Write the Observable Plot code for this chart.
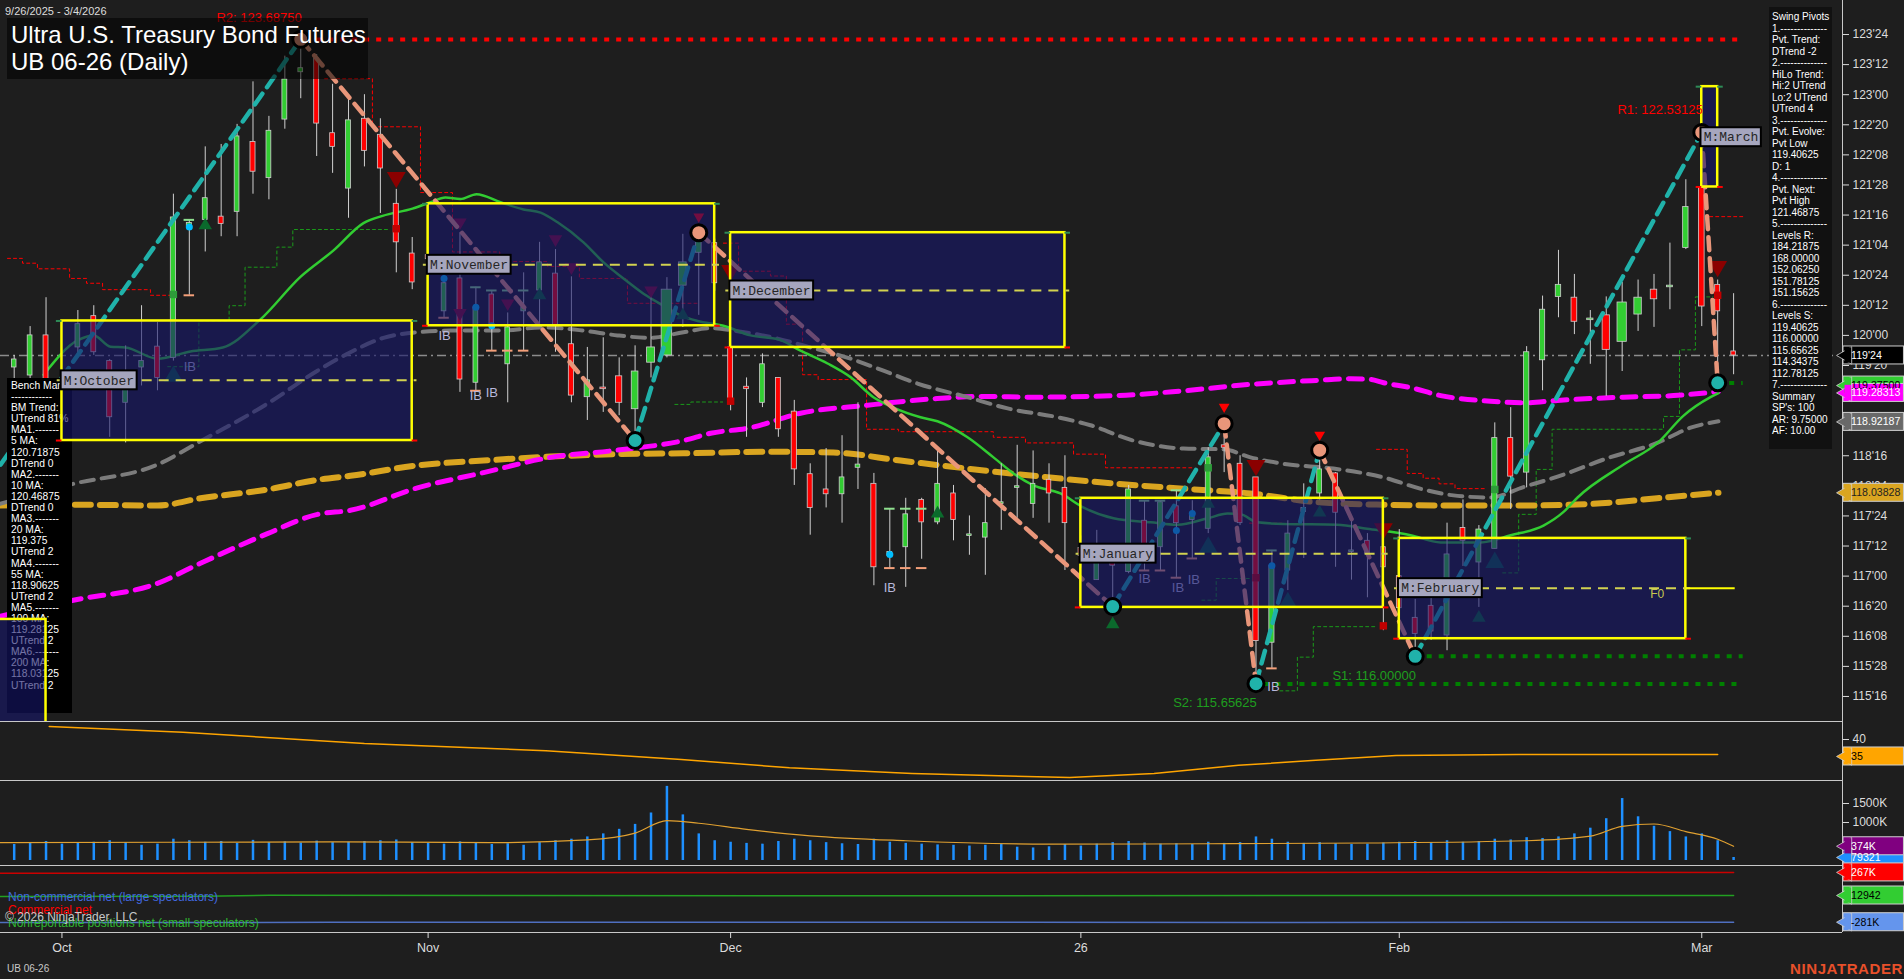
<!DOCTYPE html>
<html><head><meta charset="utf-8"><title>UB 06-26 Daily</title>
<script src="https://cdn.jsdelivr.net/npm/d3@7"></script>
<script src="https://cdn.jsdelivr.net/npm/@observablehq/plot@0.6"></script>
<style>
html,body{margin:0;padding:0;background:#1e1e1e;}
#wrap{position:relative;width:1904px;height:979px;overflow:hidden;background:#1e1e1e;font-family:"Liberation Sans",Arial,sans-serif;}
.abs{position:absolute;white-space:pre;}
</style></head><body><div id="wrap"></div>
<script>
// ---------------- DATA ----------------
const opens  = [119.6,119.5,120.0,119.3,119.85,120.24,119.68,119.16,119.60,119.86,119.72,121.36,121.44,121.48,121.54,122.41,121.96,122.69,123.28,123.45,122.52,121.83,122.70,122.50,121.64,121.02,121.00,120.30,120.71,119.41,120.51,119.64,120.30,120.56,120.77,119.89,119.23,119.35,119.49,119.08,119.66,119.75,120.62,121.03,121.15,119.85,119.36,119.16,119.47,119.05,118.27,118.08,118.02,118.35,118.15,117.25,117.36,117.95,117.67,118.03,117.50,117.48,117.90,118.10,117.90,118.20,118.10,117.35,116.95,117.28,117.05,117.69,117.36,117.87,117.70,117.59,118.63,118.40,118.23,116.17,117.07,117.80,118.03,118.28,117.30,117.44,117.36,117.00,116.48,116.63,116.26,117.60,117.17,117.34,118.72,118.29,119.69,120.48,120.47,120.19,120.25,119.92,120.26,120.57,120.60,121.09,121.84,120.63,119.80];
const highs  = [119.75,120.11,120.47,119.45,120.31,120.37,119.70,119.87,120.37,120.16,121.76,121.44,122.35,122.38,122.63,123.16,122.73,123.48,123.69,123.50,123.13,122.99,123.00,122.70,121.82,121.22,121.10,120.75,121.28,120.60,120.56,120.28,120.78,121.16,121.07,120.73,119.85,119.97,119.72,119.87,120.58,120.72,121.26,121.30,121.20,119.90,119.47,119.77,119.47,119.19,118.40,118.59,118.75,119.16,118.28,117.84,117.97,117.97,118.56,118.13,117.75,118.09,118.40,118.63,118.56,118.40,118.50,117.50,117.57,117.34,118.13,117.94,117.94,118.07,117.94,118.60,118.90,118.50,118.23,117.32,117.69,118.15,118.57,118.29,117.69,117.53,117.36,117.58,116.71,116.81,117.66,117.95,117.63,118.91,119.10,119.86,120.49,121.06,120.76,120.31,120.48,120.66,120.69,120.76,121.15,121.94,122.53,120.69,120.52];
const lows   = [119.2,119.3,119.2,118.9,119.72,119.75,118.73,118.66,119.37,119.31,119.68,120.50,121.04,121.23,121.23,121.76,121.69,122.57,122.95,122.23,122.02,121.46,122.10,121.52,120.78,120.57,120.85,120.22,119.29,119.31,119.81,119.16,119.81,120.12,119.79,119.16,118.94,119.04,119.00,118.69,119.47,119.72,120.10,120.25,120.55,119.06,118.73,119.10,118.73,118.13,117.51,117.85,117.66,118.08,116.88,117.10,116.86,117.21,117.64,117.44,117.26,117.01,117.57,117.72,117.72,117.66,117.07,117.10,116.95,116.62,117.03,117.07,117.07,116.98,117.22,117.53,118.29,117.63,115.66,115.85,116.82,117.22,117.94,117.11,116.95,116.73,116.32,116.30,116.00,116.20,116.07,117.12,116.61,117.34,117.83,118.10,119.31,120.22,120.01,119.64,119.24,119.55,120.05,120.10,120.32,121.07,120.11,119.41,119.51];
const closes = [119.7,120.0,119.4,119.1,120.14,119.79,118.98,119.41,119.68,119.47,121.47,121.40,121.71,121.39,122.48,122.04,122.55,123.19,123.33,122.64,122.35,122.68,122.30,122.08,121.16,120.66,120.95,120.65,119.45,120.35,120.12,120.10,120.35,120.91,120.12,119.25,119.44,119.33,119.16,119.55,119.85,120.57,120.91,121.25,120.65,119.19,119.33,119.64,118.83,118.33,117.85,118.02,118.23,118.39,117.11,117.30,117.77,117.67,118.15,117.70,117.52,117.66,117.92,118.12,118.15,118.03,117.66,117.25,117.23,117.13,118.08,117.26,117.92,117.66,117.75,118.48,118.60,117.66,116.19,117.13,117.53,117.85,118.33,117.79,117.32,117.28,117.11,116.60,116.28,116.31,117.27,117.44,117.58,118.72,118.24,119.79,120.32,120.63,120.17,120.21,119.82,120.41,120.47,120.45,120.62,121.60,120.36,120.30,119.75];
const volumes = [420,460,500,430,450,480,520,470,400,430,560,520,480,500,450,530,470,490,460,510,470,480,500,520,540,470,450,430,490,460,420,440,400,470,520,560,620,700,820,950,1250,1950,1200,700,520,480,450,430,500,560,520,470,440,420,560,480,450,430,410,400,380,400,420,350,330,360,420,380,430,470,500,460,430,440,420,480,450,470,620,560,480,450,470,440,420,430,460,480,500,470,520,480,500,560,540,600,580,620,700,850,1100,1630,1150,900,760,620,700,520,79.3];
const volAvg = [[-0.9,470],[10,480],[20,490],[30,470],[36,540],[39,720],[41,1050],[43,980],[46,820],[50,650],[56,520],[65,430],[75,440],[85,460],[95,520],[99,640],[101,900],[103,960],[105,760],[107,560],[108,374]];
const adx = [[2.2,43.8],[10.6,42.1],[22,38.8],[33.4,36.7],[41.9,34.1],[48.7,31.7],[56.4,30.0],[66.3,28.8],[71.6,30.0],[76.9,32.4],[81.5,33.8],[86.8,35.3],[94.5,35.6],[107,35.6]];
const cotCommercial = [[-0.9,258],[10,258],[18,262],[30,265],[50,262],[70,266],[90,268],[108,267]];
const cotLarge = [[-0.9,2],[12,5],[16,15],[30,13],[60,10],[90,14],[108,12.9]];
const cotSmall = [[-0.9,-285],[20,-282],[50,-280],[80,-283],[108,-281]];

const ma20 = [[1.85,119.51],[4,119.94],[5,120.0],[6.05,119.86],[7,119.85],[9,119.71],[11.07,119.8],[13.1,119.85],[15.47,120.2],[17.98,120.73],[20.06,121.06],[21.94,121.4],[23.14,121.49],[25.02,121.58],[26.15,121.66],[27.09,121.72],[28.03,121.7],[29.04,121.76],[30.55,121.66],[31.99,121.57],[33.06,121.53],[34.13,121.41],[35.76,121.16],[37.02,120.91],[38.27,120.71],[39.53,120.52],[40.79,120.37],[41.85,120.25],[42.92,120.18],[44.55,120.12],[46.25,120.0],[48.01,119.95],[49.39,119.81],[51.09,119.65],[52.53,119.48],[53.97,119.23],[55.23,119.1],[56.93,118.98],[57.99,118.93],[59.88,118.73],[61.51,118.48],[62.77,118.28],[64.03,118.13],[65.72,118.03],[67.21,117.85],[69.05,117.72],[71.39,117.67],[73.08,117.64],[74.96,117.72],[76.22,117.78],[77.03,117.77],[78.09,117.67],[79.73,117.65],[83.1,117.64],[84.98,117.59],[87.71,117.51],[89.6,117.42],[92.11,117.42],[94,117.51],[96.06,117.63],[97.32,117.8],[98.2,117.98],[101.09,118.39],[103.23,118.66],[104.86,119.0],[106.55,119.23],[107.05,119.28]];
const ma55 = [[-0.9,117.9],[3.72,118.15],[9,118.39],[11.7,118.68],[15.91,119.15],[19.05,119.56],[21.12,119.79],[23.2,119.97],[25.33,120.04],[27.4,120.06],[30.55,120.06],[33.25,120.1],[35.76,120.06],[37.9,120.0],[39.97,119.97],[42.04,120.04],[43.74,120.09],[45.18,120.06],[47.95,119.96],[50.02,119.85],[52.53,119.71],[54.6,119.56],[56.74,119.4],[59.88,119.23],[62.4,119.09],[65.53,118.98],[67.6,118.88],[70.28,118.69],[73.45,118.59],[75.96,118.58],[77.65,118.48],[79.73,118.4],[82.87,118.34],[86.01,118.23],[88.5,118.08],[90.66,118.0],[92.73,117.98],[94.8,118.11],[96.94,118.24],[100.08,118.47],[103.2,118.66],[105.3,118.85],[107.05,118.93]];
const ma100 = [[-0.9,116.5],[3.72,116.7],[9,116.91],[11.7,117.16],[15.91,117.53],[19.05,117.77],[21.12,117.82],[25.33,118.1],[29.48,118.29],[33.69,118.48],[37.9,118.57],[42.04,118.69],[43.74,118.78],[46.25,118.85],[49.39,119.03],[53.6,119.13],[57.75,119.21],[60.89,119.24],[64.03,119.23],[69.3,119.25],[73.45,119.31],[77.65,119.39],[81.86,119.44],[83.94,119.46],[85.2,119.45],[86.01,119.41],[87.71,119.35],[89.6,119.25],[92.73,119.18],[94.8,119.16],[96.94,119.19],[101.09,119.23],[104.23,119.25],[107.05,119.3]];
const ma200 = [[-0.9,117.88],[3.72,117.89],[9,117.88],[11.7,117.97],[15.91,118.08],[19.05,118.2],[21.12,118.25],[25.33,118.38],[29.48,118.44],[33.69,118.49],[37.9,118.52],[42.04,118.53],[47.32,118.55],[51.46,118.54],[55.67,118.44],[59.88,118.34],[64.03,118.25],[69.3,118.15],[73.45,118.09],[77.65,118.03],[81.86,117.92],[86.01,117.89],[90.66,117.88],[94.8,117.88],[99.02,117.9],[103.2,117.97],[107.05,118.04]];

const swingIdx   = [-0.86, 18, 39, 43, 69, 76, 78, 82, 88, 106, 107];
const swingPrice = [118.39, 123.69, 118.69, 121.28, 116.62, 118.9, 115.66, 118.57, 116.0, 122.53, 119.41];

const redStair = [
  [[-0.42,120.96],[0.52,120.9],[1.46,120.83],[3.48,120.71],[4.54,120.65],[5.55,120.57],[8.56,120.5],[10.0,120.5]],
  [[19.5,123.2],[22.5,122.6],[25.52,121.78],[27.53,121.04],[30.5,120.92],[33.5,120.86],[35.5,120.71],[38.52,120.4],[42.9,120.4]],
  [[44.55,121.15],[45.5,120.8],[47.5,120.74],[48.5,120.14],[49.52,119.51],[50.5,119.45],[53.54,118.83],[55.55,118.8],[61.5,118.73],[63.52,118.66],[66.54,118.52],[68.55,118.35],[74.1,118.35]],
  [[77.6,117.66],[79.6,117.66]],
  [[85.57,118.58],[87.5,118.28],[88.5,118.22],[89.5,118.15],[90.5,118.09],[92.5,118.09]],
  [[106.5,121.48],[108.6,121.48]]
];
const greenStair = [
  [[9.64,119.61],[11.6,120.18],[13.5,120.37],[14.5,120.85],[16.5,121.1],[17.5,121.32],[23.5,121.32]],
  [[41.5,119.14],[42.5,119.17],[44.5,119.17]],
  [[74.6,116.7],[75.5,116.97],[77.6,116.97]],
  [[79.5,115.57],[80.6,115.99],[81.6,116.37],[85.5,116.37]],
  [[93.5,117.04],[94.5,117.77],[95.6,118.33],[96.6,118.83],[103.6,118.99],[104.6,119.82],[105.6,120.48],[106.7,120.48]]
];

const resLevels = [123.6875], resStart = [19];
const supLevels = [116.0, 115.65625, 119.40625], supStart = [88, 78.5, 107];
const levelEnd = 108.6;
const lastPrice = 119.75;

const boxNames  = ["", "M:October", "M:November", "M:December", "M:January", "M:February", "M:March"];
const boxStart  = [-1.5, 3, 26, 45, 67, 87, 106];
const boxEnd    = [2, 25, 44, 66, 86, 105, 107];
const boxTop    = [116.46, 120.18, 121.64, 121.28, 117.97, 117.47, 123.10];
const boxBottom = [114.6, 118.69, 120.12, 119.85, 116.61, 116.22, 121.85];
const boxMid    = [null, 119.44, 120.88, 120.56, 117.28, 116.85, 122.47];

const downTriBig = [[24,121.97],[45,120.81],[78,118.38],[86,117.59],[107,120.86]];
const downTriSmall = [[28,121.41],[28,120.28],[31,120.4],[34,121.2],[35,120.85],[40,120.56]];
const downTriRed = [[43,121.48],[76,119.11],[82,118.76]];
const upTriBig = [[10,119.49],[75,117.36],[80,116.67],[93,117.17]];
const upTriSmall = [[12,121.37],[33,120.5],[42,120.25],[58,117.78],[75,117.9],[82,117.79],[92,116.48],[69,116.4]];
const redSquares = [[24,121.33],[45,119.18],[78,116.98],[86,116.38],[107,120.5]];
const greenSquares = [[10,120.51],[75,118.35],[93,118.08]];
const cyanDots = [[11,121.35],[27,120.71],[29,120.35],[30,120.12],[55,117.27],[73,117.57],[74,117.78],[79,117.13]];
const topCaps = [[11,121.44],[29,120.6],[30,120.56],[31,120.56],[32,120.56],[55,117.84],[56,117.84],[57,117.84],[71,117.94],[72,117.94],[73,118.07],[79,117.32]];
const botCaps = [[11,120.5],[27,120.22],[29,119.31],[30,119.81],[31,119.81],[32,119.81],[55,117.1],[56,117.1],[57,117.1],[71,117.07],[72,117.07],[73,116.98],[74,117.22],[79,115.85]];
const ibLabels = [[11.03,119.61],[27.03,120.0],[29.0,119.25],[30.0,119.29],[55.0,116.85],[71.0,116.97],[73.1,116.85],[74.1,116.95],[79.1,115.62]];

const priceTicks = [115.5,115.875,116.25,116.625,117,117.375,117.75,118.125,118.5,118.875,119.25,119.625,120,120.375,120.75,121.125,121.5,121.875,122.25,122.625,123,123.375,123.75];
const monthIdx = [3, 26, 45, 67, 87, 106];
const monthLabels = ["Oct", "Nov", "Dec", "26", "Feb", "Mar"];

const priceTags = [
  {v:119.75, label:"119'24", fill:"#000000", tc:"#ffffff"},
  {v:119.375, label:"119.37500", fill:"#32cd32", tc:"#000000"},
  {v:119.28313, label:"119.28313", fill:"#ff00ff", tc:"#ffffff"},
  {v:118.92187, label:"118.92187", fill:"#696969", tc:"#ffffff"},
  {v:118.03828, label:"118.03828", fill:"#daa520", tc:"#222222"}
];
const oscTags = [{v:35, label:"35", fill:"#ffa500", tc:"#000000"}];
const volTags = [{v:79.3, label:"79321", fill:"#1e90ff", tc:"#ffffff"},{v:374, label:"374K", fill:"#800080", tc:"#ffffff"}];
const cotTags = [{v:267, label:"267K", fill:"#ff0000", tc:"#ffffff"},{v:12.9, label:"12942", fill:"#32cd32", tc:"#000000"},{v:-281, label:"-281K", fill:"#6495ed", tc:"#000000"}];

const swingPanelText = ["Swing Pivots","1.--------------","Pvt. Trend:","DTrend -2","2.--------------","HiLo Trend:","Hi:2 UTrend","Lo:2 UTrend","UTrend 4","3.--------------","Pvt. Evolve:","Pvt Low","119.40625","D: 1","4.--------------","Pvt. Next:","Pvt High","121.46875","5.--------------","Levels R:","184.21875","168.00000","152.06250","151.78125","151.15625","6.--------------","Levels S:","119.40625","116.00000","115.65625","114.34375","112.78125","7.--------------","Summary","SP's: 100","AR: 9.75000","AF: 10.00"];
const benchPanelText = ["Bench Marks","------------","BM Trend:","UTrend 81%","MA1.-------","5 MA:","120.71875","DTrend 0","MA2.-------","10 MA:","120.46875","DTrend 0","MA3.-------","20 MA:","119.375","UTrend 2","MA4.-------","55 MA:","118.90625","UTrend 2","MA5.-------","100 MA:","119.28125","UTrend 2","MA6.-------","200 MA:","118.03125","UTrend 2"];

// ---------------- BUILD ----------------
const FONT = '"Liberation Sans", Arial, sans-serif';
const MONO = '"Liberation Mono", "DejaVu Sans Mono", monospace';
const wrapEl = document.getElementById("wrap");
const XD = [-0.86, 114.84];
const common = {
  width: 1904, marginLeft: 0, marginRight: 62, marginTop: 0, marginBottom: 0,
  x: {domain: XD, axis: null, label: null}, color: {type: "identity"},
  style: {background: "transparent", color: "#dcdcdc", fontFamily: FONT, fontSize: "12px", overflow: "visible"}
};
function placeNode(node, y0, z) {
  node.style.position = "absolute"; node.style.left = "0px"; node.style.top = y0 + "px";
  node.style.zIndex = z; node.style.pointerEvents = "none"; wrapEl.appendChild(node);
}
function addDiv(text, css, z) {
  const d = document.createElement("div"); d.className = "abs"; d.style.cssText = css; d.style.zIndex = z;
  d.textContent = text; wrapEl.appendChild(d); return d;
}
const P = a => ({x: a[0], y: a[1]});
function tagMarks(tags, half) {
  return [
    Plot.rect(tags, {x1: 114.9, x2: 118.7, y1: d => d.v - half, y2: d => d.v + half, fill: d => d.fill, stroke: "#d0d0d0", strokeWidth: 1}),
    Plot.dot(tags, {x: 115.1, y: "v", symbol: "triangle", rotate: -90, r: 6.5, fill: d => d.fill, stroke: "#d0d0d0", strokeWidth: 0.8}),
    Plot.rect(tags, {x1: 115.0, x2: 115.4, y1: d => d.v - half * 0.85, y2: d => d.v + half * 0.85, fill: d => d.fill}),
    Plot.text(tags, {x: 115.38, y: "v", text: "label", fill: d => d.tc, textAnchor: "start", fontSize: 10.6})
  ];
}
const fmt32 = p => { const w = Math.floor(p + 1e-9); const t = Math.round((p - w) * 32); return w + "'" + String(t).padStart(2, "0"); };

const bars = opens.map((o, i) => ({i, o, h: highs[i], l: lows[i], c: closes[i], v: volumes[i]}));
const halfW = d => Math.max(4.5, 3 + d.v / 260) / 2 / 15.92;
const swingSegs = [];
for (let k = 0; k < swingIdx.length - 1; k++) {
  const up = swingPrice[k + 1] > swingPrice[k];
  swingSegs.push({x: swingIdx[k], y: swingPrice[k], z: k, up}, {x: swingIdx[k + 1], y: swingPrice[k + 1], z: k, up});
}
const pivots = swingIdx.slice(1).map((x, k) => ({x, y: swingPrice[k + 1], hi: swingPrice[k + 1] > swingPrice[k]}));
const redStairPts = redStair.flatMap((seg, k) => seg.map(p => ({x: p[0], y: p[1], z: k})));
const greenStairPts = greenStair.flatMap((seg, k) => seg.map(p => ({x: p[0], y: p[1], z: k})));
const boxes = boxNames.map((n, k) => ({n, s: boxStart[k], e: boxEnd[k], top: boxTop[k], bot: boxBottom[k], mid: boxMid[k]}));
const labeled = boxes.filter(b => b.n);
const levelsR = resLevels.map((p, k) => ({p, s: resStart[k]}));
const levelsS = supLevels.map((p, k) => ({p, s: supStart[k]}));
const PY = [115.188, 124.174];

// base price layer
const baseLayer = Plot.plot({
  ...common, height: 721, y: {domain: PY, axis: null, label: null},
  marks: [
    Plot.ruleY([lastPrice], {stroke: "#8c8c8c", strokeWidth: 1.5, strokeDasharray: "9,4,2,4"}),
    Plot.line(redStairPts, {x: "x", y: "y", z: "z", curve: "step-after", stroke: "#ff0000", strokeWidth: 1, strokeDasharray: "3,3"}),
    Plot.line(greenStairPts, {x: "x", y: "y", z: "z", curve: "step-after", stroke: "#1a9a1a", strokeWidth: 1, strokeDasharray: "3,3"}),
    Plot.line(ma200.map(P), {x: "x", y: "y", curve: "monotone-x", stroke: "#daa520", strokeWidth: 6, strokeDasharray: "16,9"}),
    Plot.line(ma100.map(P), {x: "x", y: "y", curve: "monotone-x", stroke: "#ff00ff", strokeWidth: 5, strokeDasharray: "14,9"}),
    Plot.line(ma55.map(P), {x: "x", y: "y", curve: "monotone-x", stroke: "#7c7c7c", strokeWidth: 4, strokeDasharray: "13,8"}),
    Plot.line(ma20.map(P), {x: "x", y: "y", curve: "monotone-x", stroke: "#32cd32", strokeWidth: 2.5}),
    Plot.ruleY(levelsR, {y: "p", x1: "s", x2: levelEnd, stroke: "#ff0000", strokeWidth: 4, strokeDasharray: "5,7"}),
    Plot.ruleY(levelsS, {y: "p", x1: "s", x2: levelEnd, stroke: "#008000", strokeWidth: 4, strokeDasharray: "5,7"}),
    Plot.ruleX(bars, {x: "i", y1: "l", y2: "h", stroke: "#d0d0d0", strokeWidth: 1}),
    Plot.rect(bars, {x1: d => d.i - halfW(d), x2: d => d.i + halfW(d), y1: "o", y2: "c", fill: d => (d.c >= d.o ? "#32cd32" : "#ff0000"), stroke: "#cfcfcf", strokeWidth: 0.8}),
    Plot.ruleY(topCaps.map(P), {y: "y", x1: d => d.x - 0.33, x2: d => d.x + 0.33, stroke: "#8fe08f", strokeWidth: 2}),
    Plot.ruleY(botCaps.map(P), {y: "y", x1: d => d.x - 0.33, x2: d => d.x + 0.33, stroke: "#f4a07a", strokeWidth: 2}),
    Plot.dot(cyanDots.map(P), {x: "x", y: "y", r: 3.5, fill: "#00bfff"}),
    Plot.dot(redSquares.map(P), {x: "x", y: "y", symbol: "square", r: 4.2, fill: "#c00000"}),
    Plot.dot(greenSquares.map(P), {x: "x", y: "y", symbol: "square", r: 4.2, fill: "#2e9b3a"}),
    Plot.dot(downTriBig.map(P), {x: "x", y: "y", symbol: "triangle", rotate: 180, r: 7, fill: "#8b0000"}),
    Plot.dot(downTriSmall.map(P), {x: "x", y: "y", symbol: "triangle", rotate: 180, r: 5, fill: "#8b0a2a"}),
    Plot.dot(downTriRed.map(P), {x: "x", y: "y", symbol: "triangle", rotate: 180, r: 4, fill: "#ff0000"}),
    Plot.dot(upTriBig.map(P), {x: "x", y: "y", symbol: "triangle", r: 7, fill: "#0b5a3c"}),
    Plot.dot(upTriSmall.map(P), {x: "x", y: "y", symbol: "triangle", r: 5, fill: "#0b6a2c"}),
    Plot.line(swingSegs.filter(d => d.up), {x: "x", y: "y", z: "z", stroke: "#20b2aa", strokeWidth: 4.5, strokeDasharray: "13,8"}),
    Plot.line(swingSegs.filter(d => !d.up), {x: "x", y: "y", z: "z", stroke: "#e9967a", strokeWidth: 4.5, strokeDasharray: "13,8"}),
    Plot.text(ibLabels.map(P), {x: "x", y: "y", text: () => "IB", fill: "#b8b8dc", fontSize: 13}),
    Plot.text([{x: 12.7, y: 123.96}], {x: "x", y: "y", text: () => "R2: 123.68750", fill: "#ff0000", textAnchor: "start", fontSize: 13}),
    Plot.ruleX([XD[1]], {stroke: "#c8c8c8"}),
    Plot.axisY({anchor: "right", ticks: priceTicks, tickFormat: fmt32, tickSize: 6, tickPadding: 4, fontSize: 12, label: null})
  ]
});
placeNode(baseLayer, 0, 1);

// oscillator
const oscLayer = Plot.plot({
  ...common, height: 59, y: {domain: [27.94, 45.29], axis: null, label: null},
  marks: [
    Plot.ruleY([45.29], {stroke: "#c8c8c8"}),
    Plot.line(adx.map(P), {x: "x", y: "y", stroke: "#ffa500", strokeWidth: 1.5}),
    Plot.ruleX([XD[1]], {stroke: "#c8c8c8"}),
    Plot.axisY({anchor: "right", ticks: [40], tickSize: 6, tickPadding: 4, fontSize: 12, label: null}),
    ...tagMarks(oscTags, 2.65)
  ]
});
placeNode(oscLayer, 721, 2);

// volume
const volLayer = Plot.plot({
  ...common, height: 85, y: {domain: [-132, 2105], axis: null, label: null},
  marks: [
    Plot.ruleY([2105], {stroke: "#c8c8c8"}),
    Plot.ruleX(bars, {x: "i", y1: 0, y2: "v", stroke: "#1e90ff", strokeWidth: 2.5}),
    Plot.line(volAvg.map(P), {x: "x", y: "y", curve: "monotone-x", stroke: "#e0a030", strokeWidth: 1.2}),
    Plot.ruleX([XD[1]], {stroke: "#c8c8c8"}),
    Plot.axisY({anchor: "right", ticks: [1000, 1500], tickFormat: d => d + "K", tickSize: 6, tickPadding: 4, fontSize: 12, label: null}),
    ...tagMarks(volTags, 237)
  ]
});
placeNode(volLayer, 780, 2);

// COT + x axis
const cotLayer = Plot.plot({
  ...common, height: 114, marginBottom: 47, y: {domain: [-394, 343], axis: null, label: null},
  marks: [
    Plot.ruleY([343], {stroke: "#c8c8c8"}),
    Plot.ruleY([-394], {stroke: "#c8c8c8"}),
    Plot.line(cotCommercial.map(P), {x: "x", y: "y", stroke: "#cc0000", strokeWidth: 1.5}),
    Plot.line(cotLarge.map(P), {x: "x", y: "y", stroke: "#22a022", strokeWidth: 1.5}),
    Plot.line(cotSmall.map(P), {x: "x", y: "y", stroke: "#4f6fc0", strokeWidth: 1.5}),
    Plot.ruleX([XD[1]], {stroke: "#c8c8c8"}),
    Plot.axisX({ticks: monthIdx, tickFormat: d => monthLabels[monthIdx.indexOf(d)], tickSize: 6, tickPadding: 5, fontSize: 12.5, label: null}),
    ...tagMarks(cotTags, 99)
  ]
});
placeNode(cotLayer, 865, 2);

// bench mark panel (under boxes)
addDiv(benchPanelText.join("\n"), "left:7px;top:378px;width:65px;height:335px;background:#000;color:#fff;font-size:10.3px;line-height:11.1px;padding:2px 0 0 4px;box-sizing:border-box;overflow:hidden;", 3);

// top price layer
const topLayer = Plot.plot({
  ...common, height: 721, y: {domain: PY, axis: null, label: null},
  marks: [
    Plot.rect(boxes, {x1: "s", x2: "e", y1: "bot", y2: "top", fill: "#16166a", fillOpacity: 0.6, stroke: "#ffff00", strokeWidth: 2.5, clip: true}),
    Plot.ruleY(labeled, {y: "top", x1: d => d.s - 0.35, x2: "s", stroke: "#2e8b57", strokeWidth: 2}),
    Plot.ruleY(labeled, {y: "top", x1: "e", x2: d => d.e + 0.35, stroke: "#2e8b57", strokeWidth: 2}),
    Plot.ruleY(labeled, {y: "bot", x1: d => d.s - 0.35, x2: "s", stroke: "#ff0000", strokeWidth: 2}),
    Plot.ruleY(labeled, {y: "bot", x1: "e", x2: d => d.e + 0.35, stroke: "#ff0000", strokeWidth: 2}),
    Plot.ruleY(labeled, {y: "mid", x1: d => d.s - 0.3, x2: d => d.e + 0.3, stroke: "#d2d250", strokeWidth: 2, strokeDasharray: "10,7"}),
    Plot.ruleY(labeled.filter(b => b.n === "M:February"), {y: "mid", x1: d => d.e, x2: 108.1, stroke: "#ffff00", strokeWidth: 2}),
    Plot.text([{x: 103.2, y: 116.78}], {x: "x", y: "y", text: () => "F0", fill: "#c8c850", fontSize: 12}),
    Plot.dot(pivots, {x: "x", y: "y", r: 8, fill: d => (d.hi ? "#e9967a" : "#20b2aa"), stroke: "#000", strokeWidth: 3}),
    Plot.rect(labeled, {x1: d => d.s - 0.05, x2: d => d.s + (d.n.length * 7.8 + 5) / 15.92, y1: d => d.mid - 0.118, y2: d => d.mid + 0.118, fill: "#a6a6be", stroke: "#000", strokeWidth: 2}),
    Plot.text(labeled, {x: d => d.s + 0.12, y: "mid", text: "n", textAnchor: "start", fill: "#262626", fontFamily: MONO, fontSize: 13}),
    Plot.text([{x: 100.7, y: 122.815}], {x: "x", y: "y", text: () => "R1: 122.53125", fill: "#ff0000", textAnchor: "start", fontSize: 13}),
    Plot.text([{x: 82.8, y: 115.76}], {x: "x", y: "y", text: () => "S1: 116.00000", fill: "#1e9e1e", textAnchor: "start", fontSize: 13}),
    Plot.text([{x: 72.8, y: 115.42}], {x: "x", y: "y", text: () => "S2: 115.65625", fill: "#1e9e1e", textAnchor: "start", fontSize: 13}),
    ...tagMarks(priceTags, 0.112)
  ]
});
placeNode(topLayer, 0, 4);

// overlays
addDiv("Ultra U.S. Treasury Bond Futures\nUB 06-26 (Daily)", "left:7px;top:18px;width:361px;height:61px;background:rgba(0,0,0,0.55);color:#fff;font-size:24px;line-height:27px;padding:3px 0 0 4px;box-sizing:border-box;", 5);
addDiv("9/26/2025 - 3/4/2026", "left:5px;top:5px;color:#dcdcdc;font-size:11px;", 5);
addDiv(swingPanelText.join("\n"), "left:1769px;top:7px;width:63px;height:442px;background:#111;color:#fff;font-size:10px;line-height:11.5px;padding:4px 0 0 3px;box-sizing:border-box;overflow:hidden;", 5);
addDiv("Non-commercial net (large speculators)", "left:8px;top:890px;color:#4169e1;font-size:12px;", 5);
addDiv("Commercial net", "left:8px;top:903px;color:#ff0000;font-size:12px;", 5);
addDiv("Nonreportable positions net (small speculators)", "left:8px;top:916px;color:#2fb82f;font-size:12px;", 5);
addDiv("© 2026 NinjaTrader, LLC", "left:5px;top:910px;color:#c8c8c8;font-size:12px;", 6);
addDiv("UB 06-26", "left:7px;top:963px;color:#c8c8c8;font-size:10px;", 5);
addDiv("NINJATRADER", "left:1790px;top:960px;color:#e8502a;font-size:15px;font-weight:bold;letter-spacing:0.6px;", 5);
</script></body></html>
